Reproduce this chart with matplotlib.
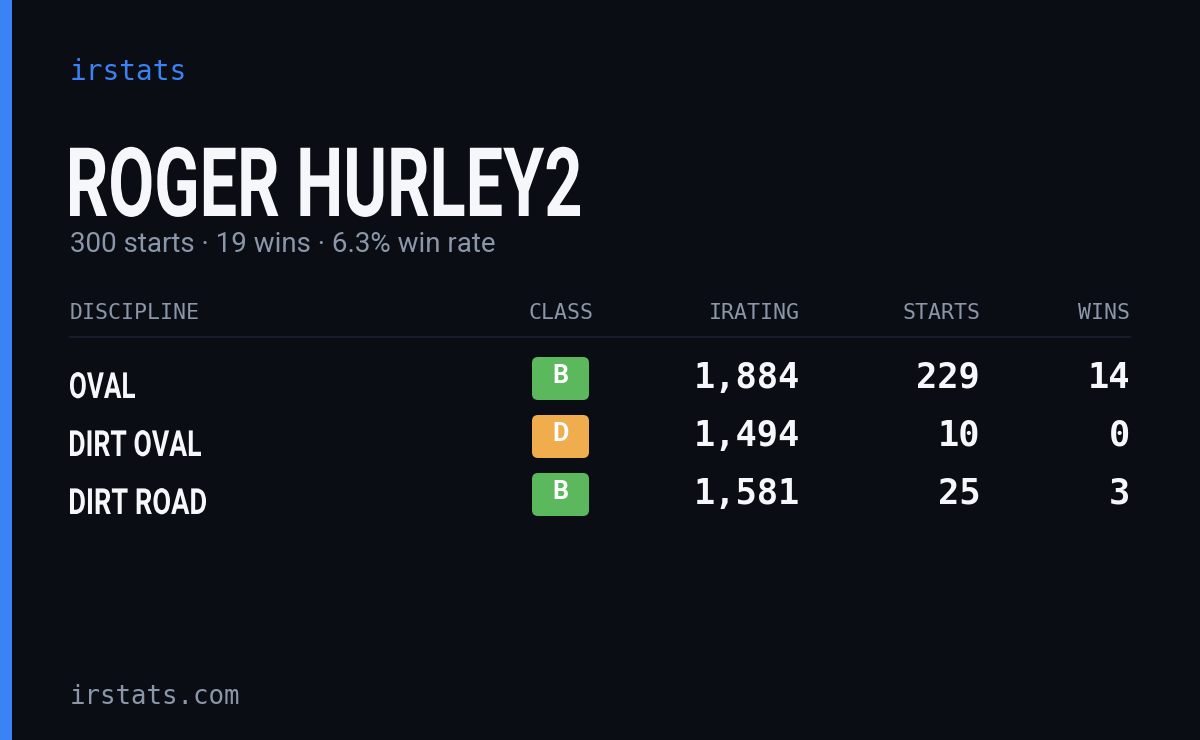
import matplotlib
matplotlib.use("Agg")
import matplotlib.pyplot as plt
from matplotlib.textpath import TextPath
from matplotlib.patches import PathPatch, FancyBboxPatch, Rectangle
from matplotlib.font_manager import FontProperties
from matplotlib.transforms import Affine2D

driver = "ROGER HURLEY2"
summary = "300 starts · 19 wins · 6.3% win rate"
headers = ["DISCIPLINE", "CLASS", "IRATING", "STARTS", "WINS"]
disciplines = ["OVAL", "DIRT OVAL", "DIRT ROAD"]
classes = ["B", "D", "B"]
iratings = [1884, 1494, 1581]
starts = [229, 10, 25]
wins = [14, 0, 3]

BG = "#0a0d14"
BLUE = "#3b82f6"
GRAY = "#8b96a8"
WHITE = "#f5f7fa"
CLASS_COLORS = {"B": "#5cb85c", "D": "#f0ad4e"}
MONO = "DejaVu Sans Mono"

fig = plt.figure(figsize=(12, 7.4), dpi=100, facecolor=BG)
ax = fig.add_axes([0, 0, 1, 1])
ax.set_xlim(0, 1200)
ax.set_ylim(740, 0)
ax.axis("off")
ax.set_facecolor(BG)

ax.add_patch(Rectangle((0, 0), 12, 740, color=BLUE, lw=0))


def condensed(x, baseline, s, size, width, color):
    # bold text squeezed horizontally to a target width
    tp = TextPath((0, 0), s, size=size, prop=FontProperties(family="Roboto", weight="bold"))
    ext = tp.get_extents()
    sx = width / ext.width
    tr = Affine2D().translate(-ext.x0, 0).scale(sx, -1).translate(x, baseline)
    ax.add_patch(PathPatch(tr.transform_path(tp), color=color, lw=0))


ax.text(70, 72, "irstats", family=MONO, fontsize=20, color=BLUE, va="center")
condensed(70, 216, driver, 96, 510, WHITE)
ax.text(70, 245, summary, family="Roboto", fontsize=20, color=GRAY, va="center")

cols_x = [70, 593, 800, 980, 1130]
for i, h in enumerate(headers):
    ax.text(cols_x[i], 313, h, family=MONO, fontsize=15.5, color=GRAY,
            va="center", ha="left" if i == 0 else "right")
ax.plot([70, 1130], [337, 337], color="#1c2130", lw=1.2)

disc_w = {"OVAL": 65, "DIRT OVAL": 131, "DIRT ROAD": 136}
for r, d in enumerate(disciplines):
    yc = 378 + 58 * r
    condensed(70, yc + 20, d, 36, disc_w[d], WHITE)
    ax.add_patch(FancyBboxPatch((532, yc - 21), 57, 43, boxstyle="round,pad=0,rounding_size=6",
                                color=CLASS_COLORS[classes[r]], lw=0))
    ax.text(560.5, yc - 2, classes[r], family="Roboto", weight="bold", fontsize=18,
            color="white", ha="center", va="center")
    for x, v in zip(cols_x[2:], [iratings[r], starts[r], wins[r]]):
        ax.text(x, yc, f"{v:,}", family=MONO, weight="bold", fontsize=25.5,
                color=WHITE, ha="right", va="center")

ax.text(70, 697, "irstats.com", family=MONO, fontsize=18.5, color=GRAY, va="center")

fig.savefig("out.png", facecolor=BG)
